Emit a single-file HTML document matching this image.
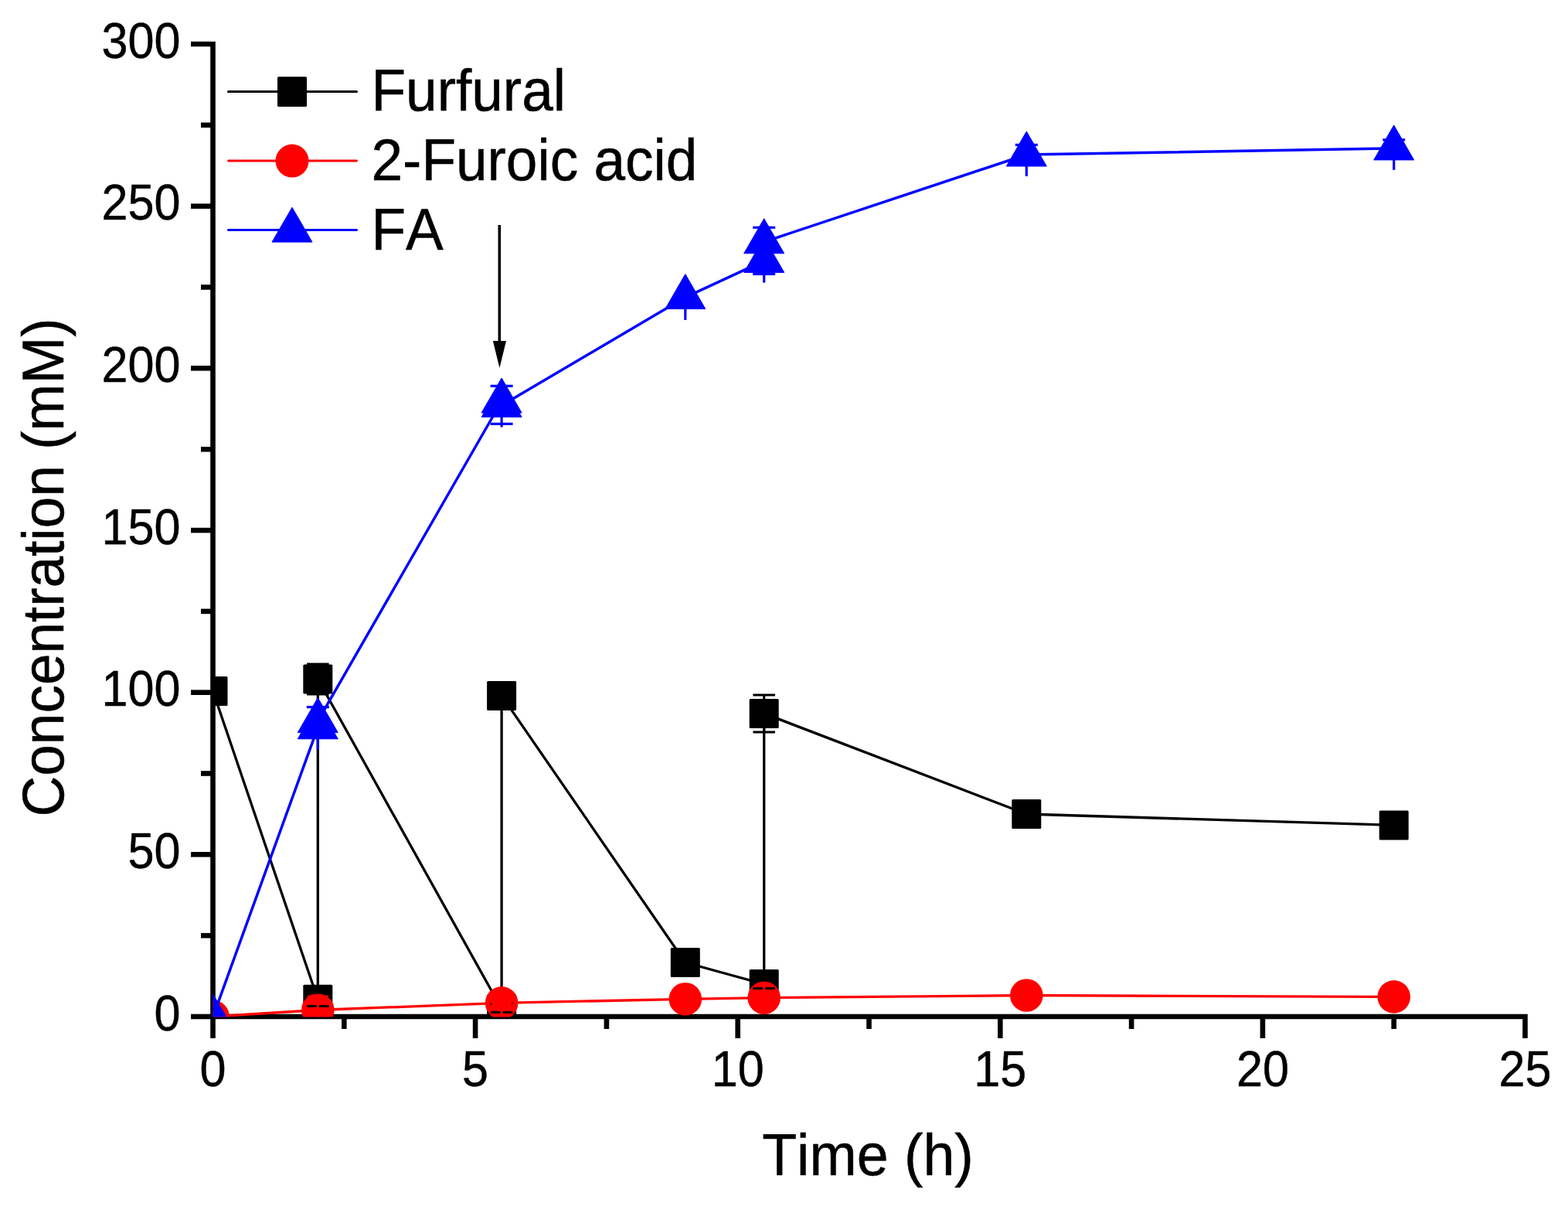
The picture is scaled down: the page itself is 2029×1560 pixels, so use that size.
<!DOCTYPE html>
<html><head><meta charset="utf-8"><title>Concentration vs Time</title>
<style>
html,body{margin:0;padding:0;background:#fff;}
body{width:2029px;height:1560px;overflow:hidden;}
svg{display:block;}
text{font-family:"Liberation Sans",Arial,sans-serif;fill:#000;stroke:#000;stroke-width:0.5px;font-kerning:none;}
</style></head><body>
<svg width="2029" height="1560" viewBox="0 0 2029 1560">
<rect x="0" y="0" width="2029" height="1560" fill="#fff"/>
<defs><clipPath id="pc"><rect x="275.5" y="0" width="2029" height="1315.5"/></clipPath></defs>
<g stroke="#000" stroke-width="6.6" stroke-linecap="butt" stroke-linejoin="miter" fill="none"><path d="M247,57.0 L275.5,57.0 L275.5,1343.0" fill="none"/><path d="M275.5,1315.0 L1973.5,1315.0 L1973.5,1343.0" fill="none"/><path d="M247,1315.0 L275.5,1315.0"/><path d="M247,1105.3 L275.5,1105.3"/><path d="M247,895.7 L275.5,895.7"/><path d="M247,686.0 L275.5,686.0"/><path d="M247,476.3 L275.5,476.3"/><path d="M247,266.7 L275.5,266.7"/><path d="M260,1210.2 L275.5,1210.2"/><path d="M260,1000.5 L275.5,1000.5"/><path d="M260,790.8 L275.5,790.8"/><path d="M260,581.2 L275.5,581.2"/><path d="M260,371.5 L275.5,371.5"/><path d="M260,161.8 L275.5,161.8"/><path d="M615.1,1315.0 L615.1,1343.0"/><path d="M954.7,1315.0 L954.7,1343.0"/><path d="M1294.3,1315.0 L1294.3,1343.0"/><path d="M1633.9,1315.0 L1633.9,1343.0"/><path d="M445.3,1315.0 L445.3,1331.0"/><path d="M784.9,1315.0 L784.9,1331.0"/><path d="M1124.5,1315.0 L1124.5,1331.0"/><path d="M1464.1,1315.0 L1464.1,1331.0"/><path d="M1803.7,1315.0 L1803.7,1331.0"/></g>
<g font-size="65px"><text transform="translate(233.5,1332.5) scale(0.94,1)" text-anchor="end">0</text><text transform="translate(233.5,1122.8) scale(0.94,1)" text-anchor="end">50</text><text transform="translate(233.5,913.2) scale(0.94,1)" text-anchor="end">100</text><text transform="translate(233.5,703.5) scale(0.94,1)" text-anchor="end">150</text><text transform="translate(233.5,493.8) scale(0.94,1)" text-anchor="end">200</text><text transform="translate(233.5,284.2) scale(0.94,1)" text-anchor="end">250</text><text transform="translate(233.5,74.5) scale(0.94,1)" text-anchor="end">300</text><text transform="translate(275.5,1404.5) scale(0.94,1)" text-anchor="middle">0</text><text transform="translate(615.1,1404.5) scale(0.94,1)" text-anchor="middle">5</text><text transform="translate(954.7,1404.5) scale(0.94,1)" text-anchor="middle">10</text><text transform="translate(1294.3,1404.5) scale(0.94,1)" text-anchor="middle">15</text><text transform="translate(1633.9,1404.5) scale(0.94,1)" text-anchor="middle">20</text><text transform="translate(1973.5,1404.5) scale(0.94,1)" text-anchor="middle">25</text></g>
<text transform="translate(1123,1520) scale(1,1.045)" font-size="73.5px" text-anchor="middle">Time (h)</text>
<text transform="translate(81.5,734) rotate(-90) scale(1,1.04)" font-size="73px" text-anchor="middle">Concentration (mM)</text>
<g clip-path="url(#pc)">
<path d="M275.5,893.9 L411.3,1292.8 L411.3,878.5 L649.1,1305.0 L649.1,899.9 L886.8,1245.0 L988.7,1273.0 L988.7,922.9 L1328.3,1053.0 L1803.7,1067.4" fill="none" stroke="#000" stroke-width="3.3" stroke-linejoin="round"/>
<rect x="256.5" y="874.9" width="38" height="38" rx="1.5" fill="#000"/>
<rect x="392.3" y="1273.8" width="38" height="38" rx="1.5" fill="#000"/>
<rect x="392.3" y="859.5" width="38" height="38" rx="1.5" fill="#000"/>
<rect x="630.1" y="1286.0" width="38" height="38" rx="1.5" fill="#000"/>
<rect x="630.1" y="880.9" width="38" height="38" rx="1.5" fill="#000"/>
<rect x="867.8" y="1226.0" width="38" height="38" rx="1.5" fill="#000"/>
<rect x="969.7" y="1254.0" width="38" height="38" rx="1.5" fill="#000"/>
<rect x="969.7" y="903.9" width="38" height="38" rx="1.5" fill="#000"/>
<rect x="1309.3" y="1034.0" width="38" height="38" rx="1.5" fill="#000"/>
<rect x="1784.7" y="1048.4" width="38" height="38" rx="1.5" fill="#000"/>
<path d="M275.5,1315.0 L411.3,1306.5 L649.1,1297.4 L886.8,1292.3 L988.7,1290.7 L1328.3,1287.5 L1803.7,1289.4" fill="none" stroke="#f00" stroke-width="3.3" stroke-linejoin="round"/>
<circle cx="275.5" cy="1315.0" r="21.3" fill="#f00"/>
<circle cx="411.3" cy="1306.5" r="21.3" fill="#f00"/>
<circle cx="649.1" cy="1297.4" r="21.3" fill="#f00"/>
<circle cx="886.8" cy="1292.3" r="21.3" fill="#f00"/>
<circle cx="988.7" cy="1290.7" r="21.3" fill="#f00"/>
<circle cx="1328.3" cy="1287.5" r="21.3" fill="#f00"/>
<circle cx="1803.7" cy="1289.4" r="21.3" fill="#f00"/>
<path d="M275.5,1315.5 L411.3,940.8 L411.3,932.6 L649.1,519.0 L649.1,524.4 L886.8,384.6 L988.7,337.4 L988.7,312.8 L1328.3,200.0 L1803.7,191.9" fill="none" stroke="#00f" stroke-width="3.5" stroke-linejoin="round"/>
<path d="M275.5,1285.5 L301.5,1330.5 L249.5,1330.5 Z" fill="#00f" stroke="#00f" stroke-width="1" stroke-linejoin="round"/>
<path d="M411.3,910.8 L437.3,955.8 L385.3,955.8 Z" fill="#00f" stroke="#00f" stroke-width="1" stroke-linejoin="round"/>
<path d="M411.3,902.6 L437.3,947.6 L385.3,947.6 Z" fill="#00f" stroke="#00f" stroke-width="1" stroke-linejoin="round"/>
<path d="M649.1,489.0 L675.1,534.0 L623.1,534.0 Z" fill="#00f" stroke="#00f" stroke-width="1" stroke-linejoin="round"/>
<path d="M649.1,494.4 L675.1,539.4 L623.1,539.4 Z" fill="#00f" stroke="#00f" stroke-width="1" stroke-linejoin="round"/>
<path d="M886.8,354.6 L912.8,399.6 L860.8,399.6 Z" fill="#00f" stroke="#00f" stroke-width="1" stroke-linejoin="round"/>
<path d="M988.7,307.4 L1014.7,352.4 L962.7,352.4 Z" fill="#00f" stroke="#00f" stroke-width="1" stroke-linejoin="round"/>
<path d="M988.7,282.8 L1014.7,327.8 L962.7,327.8 Z" fill="#00f" stroke="#00f" stroke-width="1" stroke-linejoin="round"/>
<path d="M1328.3,170.0 L1354.3,215.0 L1302.3,215.0 Z" fill="#00f" stroke="#00f" stroke-width="1" stroke-linejoin="round"/>
<path d="M1803.7,161.9 L1829.7,206.9 L1777.7,206.9 Z" fill="#00f" stroke="#00f" stroke-width="1" stroke-linejoin="round"/>
<path d="M411.3,859.0 L411.3,898.0 M397.0,859.0 L425.6,859.0 M397.0,898.0 L425.6,898.0" stroke="#000" stroke-width="3" fill="none"/>
<path d="M988.7,898.9 L988.7,946.9 M974.4,898.9 L1003.0,898.9 M974.4,946.9 L1003.0,946.9" stroke="#000" stroke-width="3" fill="none"/>
<path d="M397.0,1284.1 L425.6,1284.1 M397.0,1301.5 L425.6,1301.5" stroke="#000" stroke-width="3" fill="none"/>
<path d="M634.8,1298.5 L663.4,1298.5 M634.8,1309.5 L663.4,1309.5" stroke="#000" stroke-width="3" fill="none"/>
<path d="M974.4,1267.6 L1003.0,1267.6 M974.4,1278.4 L1003.0,1278.4" stroke="#000" stroke-width="3" fill="none"/>
<path d="M411.3,1288.9 L411.3,1325.0" stroke="#f00" stroke-width="3" fill="none"/>
<path d="M398.0,1288.9 L424.6,1288.9" stroke="#f00" stroke-width="3"/>
<path d="M649.1,1298.5 L649.1,1312.0" stroke="#f00" stroke-width="3" fill="none"/>
<path d="M635.8,1298.5 L662.4,1298.5" stroke="#f00" stroke-width="3"/>
<path d="M988.7,1276.0 L988.7,1305.0" stroke="#f00" stroke-width="3" fill="none"/>
<path d="M411.3,914.6 L411.3,969.4" stroke="#00f" stroke-width="3.2" fill="none"/>
<path d="M396.8,914.6 L425.8,914.6" stroke="#00f" stroke-width="3.2"/>
<path d="M649.1,499.3 L649.1,552.5" stroke="#00f" stroke-width="3.2" fill="none"/>
<path d="M634.6,499.3 L663.6,499.3" stroke="#00f" stroke-width="3.2"/>
<path d="M634.6,548.3 L663.6,548.3" stroke="#00f" stroke-width="3.2"/>
<path d="M886.8,373.9 L886.8,413.9" stroke="#00f" stroke-width="3.2" fill="none"/>
<path d="M988.7,294.3 L988.7,365.6" stroke="#00f" stroke-width="3.2" fill="none"/>
<path d="M974.2,294.3 L1003.2,294.3" stroke="#00f" stroke-width="3.2"/>
<path d="M974.2,354.5 L1003.2,354.5" stroke="#00f" stroke-width="3.2"/>
<path d="M1328.3,187.4 L1328.3,228.0" stroke="#00f" stroke-width="3.2" fill="none"/>
<path d="M1313.8,187.4 L1342.8,187.4" stroke="#00f" stroke-width="3.2"/>
<path d="M1803.7,180.9 L1803.7,219.8" stroke="#00f" stroke-width="3.2" fill="none"/>
<path d="M1789.2,180.9 L1818.2,180.9" stroke="#00f" stroke-width="3.2"/>
</g>
<path d="M646.3,291 L646.3,442" stroke="#000" stroke-width="3.6"/>
<path d="M637.9,441 L655,441 L646.4,476 Z" fill="#000"/>
<line x1="295.5" y1="118.6" x2="461.5" y2="118.6" stroke="#000" stroke-width="3" stroke-linecap="round"/>
<rect x="359" y="99.3" width="38" height="38.6" rx="1.5" fill="#000"/>
<line x1="295.5" y1="208.1" x2="461.5" y2="208.1" stroke="#f00" stroke-width="3" stroke-linecap="round"/>
<circle cx="378" cy="208.1" r="21.5" fill="#f00"/>
<line x1="295.5" y1="297.6" x2="461.5" y2="297.6" stroke="#00f" stroke-width="3" stroke-linecap="round"/>
<path d="M378,268.3 L404,313.1 L352,313.1 Z" fill="#00f" stroke="#00f" stroke-width="1" stroke-linejoin="round"/>
<g font-size="73px"><text transform="translate(480.5,142.8) scale(1,1.035)">Furfural</text><text transform="translate(480.5,233.3) scale(1,1.035)">2-Furoic acid</text><text transform="translate(480.5,322.8) scale(1,1.035)">FA</text></g>
</svg>
</body></html>
